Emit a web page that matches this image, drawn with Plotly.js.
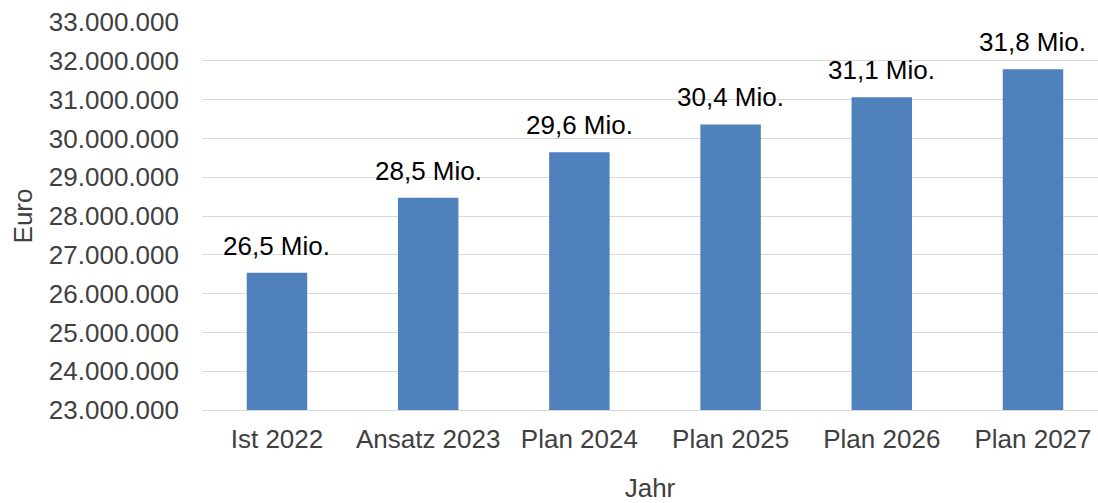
<!DOCTYPE html>
<html>
<head>
<meta charset="utf-8">
<script src="https://cdn.plot.ly/plotly-3.0.1.min.js"></script>
<style>html,body{margin:0;padding:0;background:#fff;}#chart{width:1098px;height:503px;}</style>
</head>
<body>
<div id="chart"></div>
<script>
const categories = ["Ist 2022", "Ansatz 2023", "Plan 2024", "Plan 2025", "Plan 2026", "Plan 2027"];
const values = [26540000, 28470000, 29640000, 30360000, 31060000, 31780000];
const labels = values.map(v => (v / 1e6).toFixed(1).replace('.', ',') + ' Mio.');

const FONT = 'Liberation Sans, Arial, sans-serif';

const trace = {
  type: 'bar',
  x: categories,
  y: values,
  marker: {color: '#4F81BD'},
  hoverinfo: 'none'
};

const annotations = categories.map((c, i) => ({
  x: c, y: values[i], xref: 'x', yref: 'y',
  text: labels[i], showarrow: false,
  xanchor: 'center', yanchor: 'bottom', yshift: 10,
  font: {family: FONT, size: 26, color: '#000'}
}));

const layout = {
  width: 1098, height: 503,
  margin: {l: 202, r: 0, t: 22, b: 93},
  separators: ',.',
  bargap: 0.6,
  paper_bgcolor: '#fff', plot_bgcolor: '#fff',
  font: {family: FONT, size: 26, color: '#404040'},
  showlegend: false,
  annotations: annotations,
  xaxis: {
    title: {text: 'Jahr', font: {size: 26, color: '#404040'}, standoff: 30},
    range: [-0.496, 5.43],
    tickfont: {size: 26, color: '#404040'},
    showline: true, linecolor: '#d9d9d9', linewidth: 1,
    ticks: '', showgrid: false,
    ticklabelstandoff: 6
  },
  yaxis: {
    title: {text: 'Euro', font: {size: 26, color: '#404040'}, standoff: 8},
    range: [23000000, 33000000],
    dtick: 1000000,
    tickformat: ',d',
    tickfont: {size: 26, color: '#404040'},
    gridcolor: '#d9d9d9', gridwidth: 1,
    zeroline: false, showline: false, ticks: '',
    ticklabelstandoff: 22
  }
};

Plotly.newPlot('chart', [trace], layout, {displayModeBar: false, staticPlot: true});
</script>
</body>
</html>
